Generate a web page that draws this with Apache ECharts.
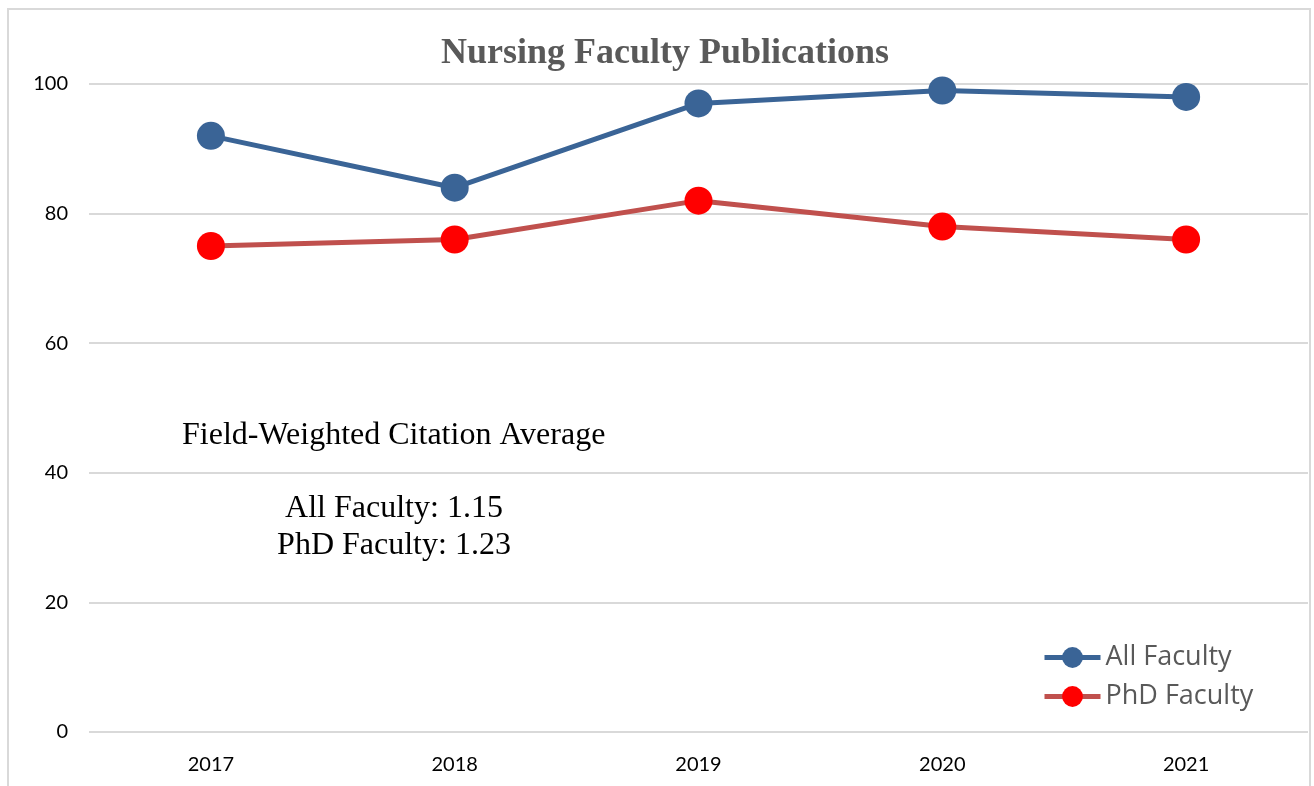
<!DOCTYPE html>
<html>
<head>
<meta charset="utf-8">
<script src="https://cdn.jsdelivr.net/npm/echarts@6/dist/echarts.min.js"></script>
<style>
  html, body { margin: 0; padding: 0; background: #fff; }
  #main { width: 1314px; height: 786px; }
</style>
</head>
<body>
<div id="main"></div>
<script>
// chart data
var years = ['2017', '2018', '2019', '2020', '2021'];
var allFaculty = [92, 84, 97, 99, 98];
var phdFaculty = [75, 76, 82, 78, 76];
var noteLines = ['Field-Weighted Citation Average', 'All Faculty: 1.15', 'PhD Faculty: 1.23'];

var myChart = echarts.init(document.getElementById('main'));
myChart.setOption({
    backgroundColor: '#fff',
    animation: false,
    title: {
        text: 'Nursing Faculty Publications',
        left: 660,
        textAlign: 'center',
        top: 31,
        textStyle: {
            fontFamily: 'Liberation Serif',
            fontWeight: 'bold',
            fontSize: 36,
            color: '#595959'
        }
    },
    legend: {
        orient: 'vertical',
        left: 1042,
        top: 644,
        padding: 0,
        itemWidth: 56,
        itemHeight: 26,
        itemGap: 12,
        lineStyle: {width: 5},
        textStyle: {
            fontFamily: 'Open Sans',
            fontSize: 27,
            color: '#595959'
        },
        data: ['All Faculty', 'PhD Faculty']
    },
    grid: {
        left: 89,
        right: 6,
        top: 84,
        bottom: 54,
        containLabel: false
    },
    xAxis: {
        type: 'category',
        data: years,
        boundaryGap: true,
        axisLine: {show: false},
        axisTick: {show: false},
        axisLabel: {
            margin: 23,
            fontFamily: 'Lato',
            fontSize: 20,
            color: '#000'
        }
    },
    yAxis: {
        type: 'value',
        min: 0,
        max: 100,
        interval: 20,
        axisLine: {show: false},
        axisTick: {show: false},
        axisLabel: {
            margin: 21,
            fontFamily: 'Lato',
            fontSize: 20,
            color: '#000'
        },
        splitLine: {
            lineStyle: {color: '#d9d9d9', width: 2}
        }
    },
    graphic: [
        {
            type: 'rect',
            shape: {x: 8, y: 9, width: 1302, height: 800},
            style: {fill: 'none', stroke: '#d9d9d9', lineWidth: 2},
            silent: true
        },
        {
            type: 'text',
            x: 182,
            y: 436,
            style: {
                text: noteLines[0],
                font: '32px "Liberation Serif"',
                fill: '#000',
                align: 'left',
                verticalAlign: 'middle'
            }
        },
        {
            type: 'text',
            x: 394,
            y: 509,
            style: {
                text: noteLines[1],
                font: '32px "Liberation Serif"',
                fill: '#000',
                align: 'center',
                verticalAlign: 'middle'
            }
        },
        {
            type: 'text',
            x: 394,
            y: 546,
            style: {
                text: noteLines[2],
                font: '32px "Liberation Serif"',
                fill: '#000',
                align: 'center',
                verticalAlign: 'middle'
            }
        }
    ],
    series: [
        {
            name: 'All Faculty',
            type: 'line',
            data: allFaculty,
            symbol: 'circle',
            symbolSize: 28,
            lineStyle: {color: '#3A6496', width: 5},
            itemStyle: {color: '#3A6496'}
        },
        {
            name: 'PhD Faculty',
            type: 'line',
            data: phdFaculty,
            symbol: 'circle',
            symbolSize: 28,
            lineStyle: {color: '#C0504D', width: 5},
            itemStyle: {color: '#FF0000'}
        }
    ]
});
</script>
</body>
</html>
